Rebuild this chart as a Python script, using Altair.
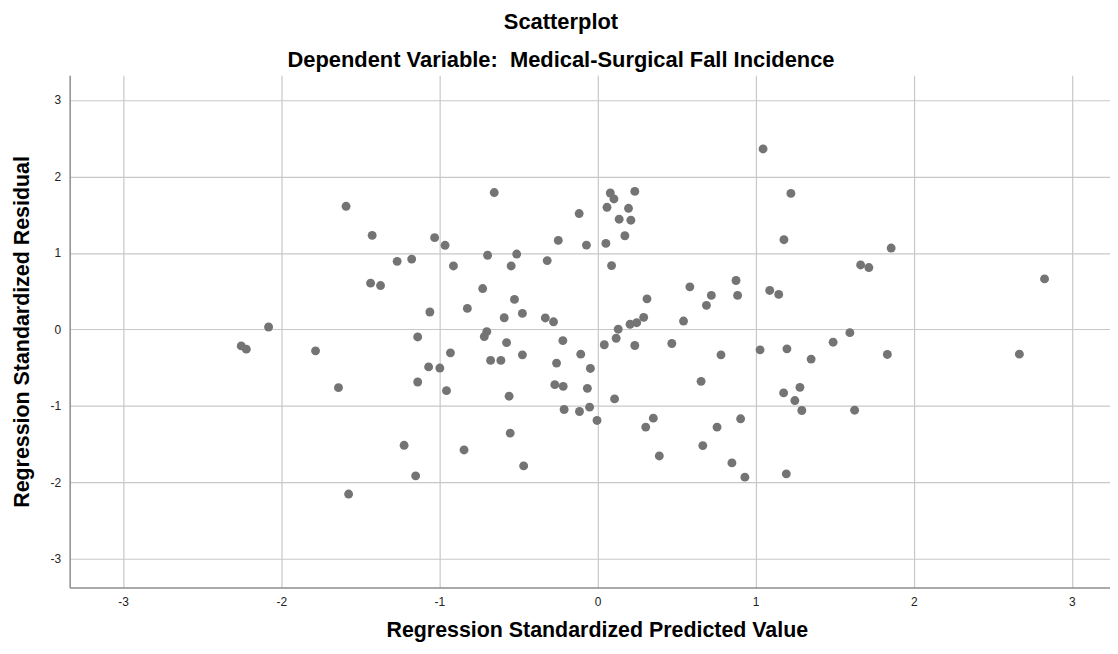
import altair as alt
import pandas as pd

# Regression standardized predicted values (x) and residuals (y)
pred = [
    -1.59, -1.425, -1.03, -0.964, -1.267, -1.175, -0.911, -0.653, -0.695, -1.435,
    -1.372, -0.726, -1.06, -0.823, -2.08, -2.253, -2.221, -1.783, -1.137, -0.70,
    -0.716, -0.93, -0.676, -1.068, -0.997, -1.638, -1.137, -0.955, -1.223, -0.844,
    -1.15, -1.574, 1.047, 0.081, 0.104, 0.236, 1.223, -0.116, 0.06, 0.196,
    0.137, 0.211, 0.173, -0.248, -0.07, 0.053, 1.179, -0.511, -0.546, -0.318,
    0.089, -0.525, -0.59, -0.475, -0.33, -0.278, 0.313, 0.292, 0.206, 0.248,
    0.131, 0.118, 0.043, 0.236, 0.584, 0.876, 0.886, 0.72, 0.689, 0.544,
    1.089, 1.146, 0.47, 0.781, 1.028, 1.198, -0.575, -0.219, -0.611, -0.475,
    -0.259, -0.106, -0.045, -0.27, -0.217, -0.064, 0.655, -0.559, 0.108, 1.177,
    1.28, 1.248, 1.292, -0.211, -0.114, -0.05, -0.003, 0.305, 0.353, 0.756,
    0.905, 0.666, 0.391, 0.85, 0.932, 1.194, -0.552, -0.467, 1.857, 1.664,
    1.716, 2.827, 1.596, 1.49, 1.351, 1.833, 2.668, 1.626,
]
resid = [
    1.61, 1.23, 1.20, 1.10, 0.89, 0.92, 0.83, 1.79, 0.97, 0.605,
    0.574, 0.535, 0.228, 0.275, 0.032, -0.215, -0.258, -0.28, -0.098, -0.028,
    -0.093, -0.306, -0.405, -0.49, -0.505, -0.761, -0.687, -0.80, -1.515, -1.576,
    -1.914, -2.152, 2.36, 1.784, 1.706, 1.805, 1.779, 1.515, 1.597, 1.584,
    1.441, 1.428, 1.225, 1.164, 1.103, 1.125, 1.173, 0.986, 0.83, 0.90,
    0.835, 0.393, 0.153, 0.21, 0.15, 0.10, 0.40, 0.158, 0.068, 0.088,
    0.003, -0.115, -0.20, -0.21, 0.557, 0.64, 0.445, 0.445, 0.315, 0.11,
    0.51, 0.458, -0.184, -0.332, -0.267, -0.254, -0.172, -0.146, -0.405, -0.332,
    -0.44, -0.323, -0.51, -0.722, -0.744, -0.77, -0.679, -0.873, -0.908, -0.83,
    -0.757, -0.93, -1.06, -1.047, -1.073, -1.016, -1.19, -1.277, -1.16, -1.277,
    -1.168, -1.519, -1.654, -1.745, -1.931, -1.888, -1.355, -1.784, 1.064, 0.843,
    0.809, 0.661, -0.042, -0.167, -0.388, -0.327, -0.323, -1.056,
]
tick_values = [-3, -2, -1, 0, 1, 2, 3]
title_text = ["Scatterplot"]
subtitle_text = ["Dependent Variable:\u00a0 Medical-Surgical Fall Incidence"]
x_title = "Regression Standardized Predicted Value"
y_title = "Regression Standardized Residual"

df = pd.DataFrame({"pred": pred, "resid": resid})

FONT = "Liberation Sans"

points = alt.Chart(df).mark_circle(size=80, color="#747474", opacity=1).encode(
    x=alt.X(
        "pred:Q",
        scale=alt.Scale(domain=[-3.338, 3.241], nice=False, zero=False),
        axis=alt.Axis(
            values=tick_values,
            title=x_title,
            labelExpr="toString(datum.value)",
            ticks=False,
            labelPadding=9,
            titlePadding=12,
            titleX=530,
        ),
    ),
    y=alt.Y(
        "resid:Q",
        scale=alt.Scale(domain=[-3.375, 3.322], nice=False, zero=False),
        axis=alt.Axis(
            values=tick_values,
            title=y_title,
            labelExpr="toString(datum.value)",
            ticks=False,
            labelPadding=9,
            titlePadding=17,
        ),
    ),
)

title_layer = alt.Chart(pd.DataFrame({"t": title_text})).mark_text(
    font=FONT, fontSize=22, fontWeight="bold", align="center", baseline="middle", color="#000000"
).encode(x=alt.value(494), y=alt.value(-54), text="t:N")

subtitle_layer = alt.Chart(pd.DataFrame({"t": subtitle_text})).mark_text(
    font=FONT, fontSize=22, fontWeight="bold", align="center", baseline="middle", color="#000000"
).encode(x=alt.value(494), y=alt.value(-15), text="t:N")

chart = (
    alt.layer(points, title_layer, subtitle_layer)
    .properties(
        width=1046,
        height=515,
        padding={"left": 62, "top": 66, "right": 0, "bottom": 54},
        autosize=alt.AutoSizeParams(type="none"),
        background="#ffffff",
    )
    .configure_view(strokeWidth=0)
    .configure_axis(
        grid=True,
        gridColor="#c8c8c8",
        gridWidth=1.2,
        domainColor="#8c8c8c",
        domainWidth=1.5,
        labelFont=FONT,
        labelFontSize=12,
        labelColor="#222222",
        titleFont=FONT,
        titleFontSize=21.5,
        titleFontWeight="bold",
        titleColor="#000000",
    )
)

chart.save("out.html", embed_options={"renderer": "svg", "actions": False})
